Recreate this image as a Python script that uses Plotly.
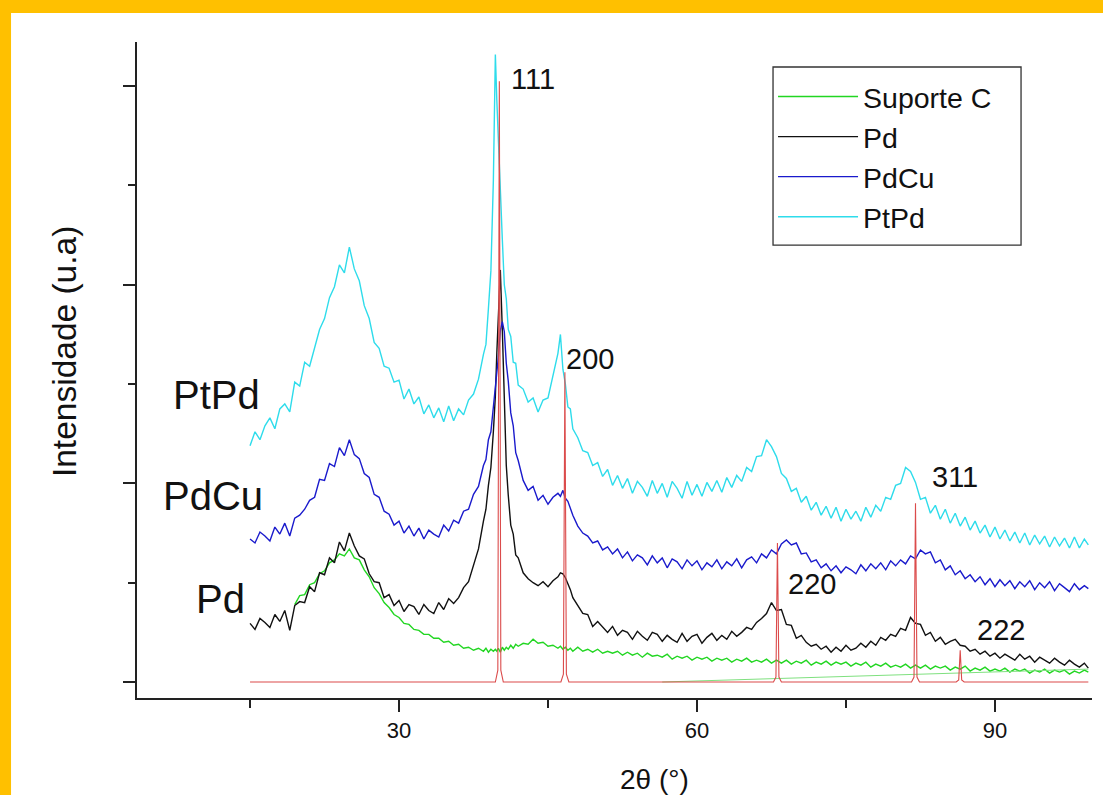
import plotly.graph_objects as go

# ---------------- data ----------------
two_theta = [
    15, 15.5, 16, 16.5, 17, 17.5, 18, 18.5, 19, 19.5, 20, 20.5, 21, 21.5, 22, 22.5,
    23, 23.5, 24, 24.5, 25, 25.5, 26, 26.5, 27, 27.5, 28, 28.5, 29, 29.5, 30, 30.5,
    31, 31.5, 32, 32.5, 33, 33.5, 34, 34.5, 35, 35.5, 36, 36.5, 37, 37.5, 38,
    38.5, 38.75, 39, 39.25, 39.5, 39.7, 39.85, 40, 40.2, 40.4, 40.6, 40.8, 41, 41.25, 41.5, 41.75, 42,
    42.5, 43, 43.5, 44, 44.5, 45, 45.5,
    46, 46.25, 46.5, 46.75, 47, 47.25, 47.5,
    48, 48.5, 49, 49.5, 50, 50.5, 51, 51.5, 52, 52.5, 53, 53.5, 54, 54.5, 55, 55.5,
    56, 56.5, 57, 57.5, 58, 58.5, 59, 59.5, 60, 60.5, 61, 61.5, 62, 62.5, 63, 63.5,
    64, 64.5, 65, 65.5, 66, 66.5, 67, 67.5, 68, 68.5, 69, 69.5, 70, 70.5, 71, 71.5,
    72, 72.5, 73, 73.5, 74, 74.5, 75, 75.5, 76, 76.5, 77, 77.5, 78, 78.5, 79, 79.5,
    80, 80.5, 81, 81.5, 82, 82.5, 83, 83.5, 84, 84.5, 85, 85.5, 86, 86.5, 87, 87.5,
    88, 88.5, 89, 89.5, 90, 90.5, 91, 91.5, 92, 92.5, 93, 93.5, 94, 94.5, 95, 95.5,
    96, 96.5, 97, 97.5, 98, 98.5, 99,
    99.4,
]

suporte_c = [
    None, None, None, None, None, None, None, None, None,
    .78, .87, .88, .98, 1.00, 1.09, 1.12, 1.20, 1.23, 1.29, 1.27, 1.34, 1.25, 1.23, 1.13, 1.06,
    .95, .89, .80, .75, .68, .65, .59, .58, .53, .52, .48, .48, .44, .44, .40, .41, .37, .38,
    .34, .35, .32, .34,
    .31, .34, .30, .33, .31, .33, .31, .34, .30, .35, .32, .35, .33, .37, .34, .38, .36,
    .39, .38, .43, .39, .40, .36, .37,
    .34, .36, .33, .35, .32, .34, .31,
    .35, .31, .33, .30, .33, .29, .31, .29, .31, .27, .30, .27, .29, .25, .29, .26,
    .27, .25, .28, .23, .26, .24, .26, .22, .25, .23, .25, .21, .24, .22, .24, .20,
    .23, .21, .24, .20, .22, .20, .23, .19, .22, .19, .22, .18, .21, .19, .22, .17,
    .20, .18, .21, .17, .20, .18, .20, .16, .19, .17, .20, .15, .18, .16, .19, .15,
    .17, .15, .18, .14, .17, .14, .17, .13, .16, .14, .16, .12, .15, .13, .16, .11,
    .14, .12, .15, .11, .13, .11, .14, .10, .13, .11, .13, .09, .12, .10, .13, .09,
    .12, .10, .12, .08, .11, .09, .12,
    .10,
]

pd_int = [
    .59, .53, .64, .60, .55, .68, .61, .72, .52, .77, .81, .80, .96, .91, 1.10, 1.08,
    1.25, 1.20, 1.41, 1.32, 1.50, 1.37, 1.27, 1.24, 1.09, 1.01, 1.00, .85, .88, .77, .82, .71,
    .78, .76, .68, .78, .72, .69, .80, .73, .84, .79, .85, .95, 1.01, 1.17, 1.34,
    1.62, 1.74, 1.98, 2.16, 2.52, 2.88, 3.32, 3.68, 4.15, 3.55, 2.84, 2.18, 1.88, 1.58, 1.49, 1.28, 1.25,
    1.10, 1.04, 1.00, .97, 1.01, .96, 1.02,
    1.06, 1.10, 1.09, 1.05, .99, .93, .85,
    .77, .69, .68, .56, .61, .55, .50, .56, .47, .52, .50, .43, .51, .46, .42, .50,
    .48, .41, .47, .43, .40, .49, .41, .46, .48, .39, .45, .49, .42, .47, .43, .51,
    .46, .50, .55, .53, .60, .64, .69, .80, .72, .73, .58, .57, .44, .47, .40, .36,
    .38, .33, .36, .30, .35, .31, .37, .32, .34, .39, .35, .41, .37, .45, .42, .48,
    .46, .54, .52, .65, .59, .58, .47, .50, .41, .45, .38, .41, .43, .37, .36, .31,
    .33, .28, .31, .26, .29, .24, .28, .25, .22, .28, .23, .26, .20, .25, .22, .19,
    .24, .20, .17, .22, .18, .15, .19,
    .14,
]

pdcu_int = [
    1.44, 1.40, 1.51, 1.47, 1.42, 1.56, 1.49, 1.60, 1.47, 1.65, 1.68, 1.74, 1.83, 1.86, 2.04, 2.03,
    2.20, 2.17, 2.36, 2.28, 2.44, 2.29, 2.25, 2.10, 2.06, 1.89, 1.86, 1.72, 1.69, 1.58, 1.62, 1.50,
    1.57, 1.47, 1.55, 1.44, 1.53, 1.49, 1.46, 1.58, 1.52, 1.63, 1.60, 1.72, 1.74, 1.89, 1.97,
    2.18, 2.24, 2.44, 2.52, 2.78, 2.92, 3.13, 3.27, 3.54, 3.63, 3.53, 3.21, 3.03, 2.71, 2.58, 2.31, 2.23,
    2.03, 1.93, 1.97, 1.83, 1.88, 1.79, 1.86,
    1.90, 1.87, 1.93, 1.85, 1.82, 1.74, 1.68,
    1.57, 1.50, 1.47, 1.40, 1.42, 1.33, 1.36, 1.29, 1.34, 1.25, 1.31, 1.22, 1.28, 1.25, 1.18, 1.27,
    1.20, 1.25, 1.15, 1.24, 1.21, 1.14, 1.23, 1.17, 1.22, 1.13, 1.20, 1.16, 1.23, 1.14, 1.21, 1.17,
    1.24, 1.15, 1.23, 1.26, 1.20, 1.29, 1.25, 1.33, 1.29, 1.39, 1.43, 1.38, 1.40, 1.29, 1.30, 1.21,
    1.23, 1.15, 1.19, 1.12, 1.17, 1.10, 1.16, 1.13, 1.09, 1.18, 1.12, 1.19, 1.14, 1.20, 1.13, 1.22,
    1.17, 1.23, 1.19, 1.27, 1.24, 1.33, 1.29, 1.31, 1.20, 1.23, 1.13, 1.17, 1.08, 1.12, 1.04, 1.08,
    1.01, 1.06, .98, 1.04, .96, 1.03, .97, 1.02, .94, 1.01, .96, 1.02, .93, 1.00, .95, 1.01,
    .92, .99, .95, .91, .99, .93, .97,
    .94,
]

ptpd_int = [
    2.38, 2.52, 2.44, 2.58, 2.66, 2.55, 2.75, 2.80, 2.72, 3.02, 2.98, 3.22, 3.18, 3.36, 3.55, 3.66,
    3.87, 3.98, 4.20, 4.12, 4.38, 4.16, 4.04, 3.79, 3.66, 3.42, 3.36, 3.18, 3.16, 3.02, 3.04, 2.85,
    2.95, 2.80, 2.87, 2.70, 2.79, 2.66, 2.76, 2.62, 2.78, 2.63, 2.75, 2.69, 2.84, 2.90, 3.05,
    3.30, 3.40, 3.76, 4.14, 5.05, 6.32, 5.85, 5.46, 4.80, 4.46, 4.00, 3.86, 3.55, 3.48, 3.22, 3.21, 2.99,
    2.95, 2.82, 2.86, 2.72, 2.84, 2.86, 3.08,
    3.31, 3.50, 3.15, 3.00, 2.77, 2.75, 2.55,
    2.46, 2.33, 2.31, 2.18, 2.21, 2.07, 2.14, 1.98, 2.08, 1.95, 2.05, 1.90, 2.02, 1.96, 1.87, 2.03,
    1.90, 2.00, 1.86, 2.02, 1.95, 1.85, 2.02, 1.88, 1.99, 1.87, 2.01, 1.92, 2.03, 1.91, 2.06, 1.96,
    2.08, 2.02, 2.16, 2.12, 2.27, 2.28, 2.44, 2.37, 2.27, 2.10, 2.05, 1.92, 1.95, 1.81, 1.87, 1.73,
    1.81, 1.68, 1.77, 1.65, 1.76, 1.62, 1.74, 1.64, 1.72, 1.62, 1.76, 1.66, 1.78, 1.72, 1.86, 1.84,
    1.98, 2.00, 2.16, 2.12, 2.01, 1.84, 1.86, 1.70, 1.78, 1.64, 1.74, 1.60, 1.70, 1.57, 1.66, 1.53,
    1.62, 1.50, 1.58, 1.46, 1.56, 1.44, 1.53, 1.42, 1.51, 1.40, 1.50, 1.38, 1.48, 1.39, 1.47, 1.36,
    1.46, 1.37, 1.45, 1.35, 1.46, 1.35, 1.44,
    1.38,
]

# Pd reference pattern (red sticks)
ref_two_theta = [15, 39.7, 39.95, 40.1, 40.25, 40.5, 46.3, 46.55, 46.7, 46.85, 47.1,
                 67.7, 67.95, 68.1, 68.25, 68.5, 81.6, 81.85, 82.0, 82.15, 82.4,
                 86.1, 86.35, 86.5, 86.65, 86.9, 99.4]
ref_int = [0, 0, 0.12, 6.05, 0.12, 0, 0, 0.08, 3.12, 0.08, 0,
           0, 0.05, 1.40, 0.05, 0, 0, 0.05, 1.80, 0.05, 0,
           0, 0.02, 0.32, 0.02, 0, 0]

# faint straight green segment near the base line
aux_two_theta = [56.5, 99.4]
aux_int = [0.0, 0.13]

series_names = ["Suporte C", "Pd", "PdCu", "PtPd"]
peak_labels = ["111", "200", "220", "311", "222"]
sample_labels = ["PtPd", "PdCu", "Pd"]

for name, arr in [("suporte_c", suporte_c), ("pd", pd_int), ("pdcu", pdcu_int), ("ptpd", ptpd_int)]:
    if len(arr) != len(two_theta):
        raise ValueError(f"{name}: {len(arr)} vs {len(two_theta)}")

# ---------------- figure ----------------
FONT = "Liberation Sans, Arial, sans-serif"
colors = {"Suporte C": "#22D622", "Pd": "#111111", "PdCu": "#1A1ACC", "PtPd": "#2EDCEB"}
values = {"Suporte C": suporte_c, "Pd": pd_int, "PdCu": pdcu_int, "PtPd": ptpd_int}

fig = go.Figure()
for name in series_names:
    fig.add_trace(go.Scatter(
        x=two_theta, y=values[name], mode="lines", name=name,
        line=dict(color=colors[name], width=1.4), connectgaps=False,
        legendgroup=name,
    ))

fig.add_trace(go.Scatter(x=aux_two_theta, y=aux_int, mode="lines", showlegend=False,
                         line=dict(color="#7FE07F", width=1)))
fig.add_trace(go.Scatter(x=ref_two_theta, y=ref_int, mode="lines", showlegend=False,
                         line=dict(color="#DB4B4B", width=1.1)))

annotations = []
peak_pos = [(43.49, 6.07), (49.23, 3.25), (71.58, 0.99), (85.97, 2.06), (90.61, 0.52)]
for txt, (px, py) in zip(peak_labels, peak_pos):
    annotations.append(dict(x=px, y=py, xref="x", yref="y", text=txt, showarrow=False,
                            xanchor="center", yanchor="middle",
                            font=dict(family=FONT, size=29, color="#111")))
sample_pos = [(11.58, 2.89), (11.28, 1.87), (11.98, 0.84)]
for txt, (px, py) in zip(sample_labels, sample_pos):
    annotations.append(dict(x=px, y=py, xref="x", yref="y", text=txt, showarrow=False,
                            xanchor="center", yanchor="middle",
                            font=dict(family=FONT, size=40, color="#111")))
# axis titles
annotations.append(dict(x=0.5414, y=-0.1235, xref="paper", yref="paper", text="2θ (°)",
                        showarrow=False, xanchor="center", yanchor="middle",
                        font=dict(family=FONT, size=28, color="#111")))
annotations.append(dict(x=-0.0764, y=0.5274, xref="paper", yref="paper", text="Intensidade (u.a)",
                        showarrow=False, xanchor="center", yanchor="middle", textangle=-90,
                        font=dict(family=FONT, size=33.5, color="#111")))

shapes = [
    # yellow frame bands (top and left)
    dict(type="rect", xref="paper", yref="paper", x0=-0.15, x1=1.02, y0=1.0442, y1=1.07,
         fillcolor="#FFC000", line=dict(width=0), layer="above"),
    dict(type="rect", xref="paper", yref="paper", x0=-0.15, x1=-0.1319, y0=-0.16, y1=1.07,
         fillcolor="#FFC000", line=dict(width=0), layer="above"),
    # legend frame
    dict(type="rect", xref="paper", yref="paper", x0=0.666, x1=0.9257, y0=0.6905, y1=0.9619,
         fillcolor="white", line=dict(color="#333", width=1.3), layer="above"),
]

fig.update_layout(
    width=1103, height=795,
    margin=dict(l=137, r=11, t=42, b=97),
    paper_bgcolor="white", plot_bgcolor="white",
    font=dict(family=FONT, color="#111"),
    showlegend=True,
    legend=dict(x=0.666, y=0.955, xanchor="left", yanchor="top",
                bgcolor="rgba(0,0,0,0)", borderwidth=0,
                font=dict(family=FONT, size=28.5, color="#111"),
                itemwidth=80, tracegroupgap=4, traceorder="normal"),
    annotations=annotations,
    shapes=shapes,
    xaxis=dict(range=[3.62, 99.77], showgrid=False, zeroline=False,
               showline=True, linecolor="#222", linewidth=2,
               ticks="outside", tickvals=[30, 60, 90], ticklen=12, tickwidth=2, tickcolor="#222",
               tickfont=dict(family=FONT, size=22, color="#111"),
               minor=dict(tickvals=[15, 45, 75], ticks="outside", ticklen=8, tickwidth=2,
                          tickcolor="#222")),
    yaxis=dict(range=[-0.161, 6.445], showgrid=False, zeroline=False,
               showline=True, linecolor="#222", linewidth=2,
               ticks="outside", tickvals=[0, 2, 4, 6], ticklen=12, tickwidth=2, tickcolor="#222",
               showticklabels=False,
               minor=dict(tickvals=[1, 3, 5], ticks="outside", ticklen=7, tickwidth=2,
                          tickcolor="#222")),
)

fig.write_html("out.html", config={"displayModeBar": False},
               post_script="document.body.style.margin='0';document.body.style.overflow='hidden';")
